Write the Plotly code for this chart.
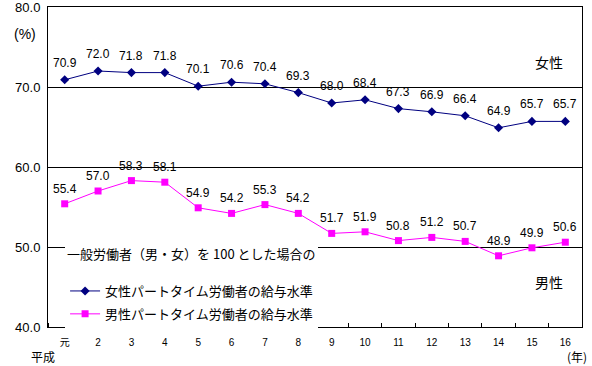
import plotly.graph_objects as go

categories = ["元", "2", "3", "4", "5", "6", "7", "8", "9", "10", "11", "12", "13", "14", "15", "16"]
female = [70.9, 72.0, 71.8, 71.8, 70.1, 70.6, 70.4, 69.3, 68.0, 68.4, 67.3, 66.9, 66.4, 64.9, 65.7, 65.7]
male = [55.4, 57.0, 58.3, 58.1, 54.9, 54.2, 55.3, 54.2, 51.7, 51.9, 50.8, 51.2, 50.7, 48.9, 49.9, 50.6]
y_ticks = [40, 50, 60, 70, 80]
y_tick_labels = ["40.0", "50.0", "60.0", "70.0", "80.0"]

FONT = "Liberation Sans, Noto Sans CJK JP, sans-serif"
CJK = "Noto Sans CJK JP, sans-serif"
NAVY = "#000080"
MAGENTA = "#FF00FF"

idx = list(range(len(categories)))

fig = go.Figure()
fig.add_trace(go.Scatter(
    x=idx, y=female, mode="lines+markers", name="女性パートタイム労働者の給与水準",
    legendgroup="f",
    line=dict(color=NAVY, width=1), marker=dict(symbol="diamond", size=7, color=NAVY)))
fig.add_trace(go.Scatter(
    x=idx, y=male, mode="lines+markers", name="男性パートタイム労働者の給与水準",
    legendgroup="m",
    line=dict(color=MAGENTA, width=1), marker=dict(symbol="square", size=7, color=MAGENTA)))

annotations = []
for i, v in zip(idx, female):
    annotations.append(dict(x=i, y=v, text=f"{v:.1f}", showarrow=False, yshift=17,
                            font=dict(family=FONT, size=12, color="black")))
for i, v in zip(idx, male):
    annotations.append(dict(x=i, y=v, text=f"{v:.1f}", showarrow=False, yshift=15,
                            font=dict(family=FONT, size=12, color="black")))

annotations += [
    dict(xref="paper", yref="paper", x=-0.018, y=0.915, xanchor="right", yanchor="middle",
         text="(%)", showarrow=False, font=dict(family=FONT, size=14, color="black")),
    dict(xref="paper", yref="paper", x=0.938, y=0.828, xanchor="center", yanchor="middle",
         text="女性", showarrow=False, font=dict(family=CJK, size=14, color="black")),
    dict(xref="paper", yref="paper", x=0.938, y=0.14, xanchor="center", yanchor="middle",
         text="男性", showarrow=False, font=dict(family=CJK, size=14, color="black")),
    dict(xref="paper", yref="paper", x=-0.01, y=-0.092, xanchor="center", yanchor="middle",
         text="平成", showarrow=False, font=dict(family=CJK, size=12, color="black")),
    dict(xref="paper", yref="paper", x=0.99, y=-0.092, xanchor="center", yanchor="middle",
         text="(年)", showarrow=False, font=dict(family=CJK, size=12, color="black")),
]

fig.update_layout(
    width=592, height=366,
    margin=dict(l=48, r=10, t=7, b=39, autoexpand=False),
    paper_bgcolor="white", plot_bgcolor="white",
    showlegend=True,
    legend=dict(
        x=0.032, y=0.265, xanchor="left", yanchor="top",
        bgcolor="white", borderwidth=0,
        font=dict(family=CJK, size=13, color="black"),
        title=dict(text="一般労働者（男・女）を 100 とした場合の<br><span style='font-size:9px'> </span>",
                   side="top", font=dict(family=CJK, size=13, color="black")),
        itemwidth=30, tracegroupgap=3,
    ),
    annotations=annotations,
)
fig.update_xaxes(
    range=[-0.5, len(categories) - 0.5], tickvals=idx, ticktext=categories,
    showline=True, linecolor="black", linewidth=1, mirror=True,
    showgrid=False, zeroline=False, ticks="", ticklabelstandoff=6,
    minor=dict(ticks="inside", ticklen=4, tickcolor="black", tick0=0.5, dtick=1, showgrid=False),
    tickfont=dict(family=FONT, size=10, color="black"),
)
fig.update_yaxes(
    range=[40, 80], tickvals=y_ticks, ticktext=y_tick_labels,
    showline=True, linecolor="black", linewidth=1, mirror=True,
    showgrid=True, gridcolor="black", gridwidth=1, zeroline=False, ticks="",
    ticklabeloverflow="allow", ticklabelstandoff=4,
    tickfont=dict(family=FONT, size=13, color="black"),
)

fig.write_html("out.html", post_script="document.body.style.margin='0px';",
               config={"displayModeBar": False})
